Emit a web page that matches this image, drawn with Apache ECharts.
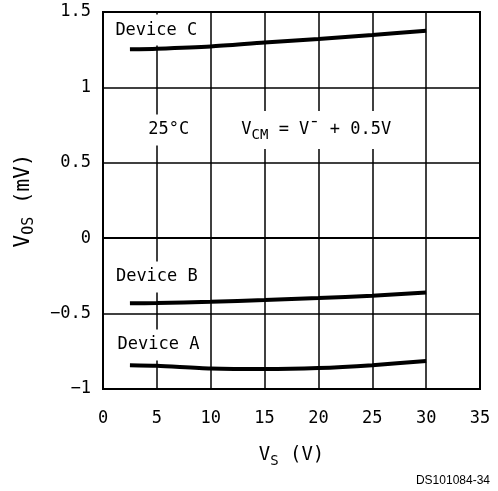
<!DOCTYPE html>
<html>
<head>
<meta charset="utf-8">
<script src="https://cdn.jsdelivr.net/npm/echarts@6/dist/echarts.min.js"></script>
<style>
  html, body { margin: 0; padding: 0; background: #fff; }
  #chart_wrap { width: 498px; height: 491px; }
</style>
</head>
<body>
<div id="chart_wrap"></div>
<script>
var vsValues = [2.5, 5, 10, 15, 20, 25, 30];
var deviceA = [-0.842, -0.846, -0.864, -0.868, -0.861, -0.842, -0.815];
var deviceB = [-0.432, -0.43, -0.421, -0.41, -0.397, -0.381, -0.36];
var deviceC = [1.253, 1.257, 1.272, 1.298, 1.321, 1.347, 1.376];

var noteText = ['{n|Device C}', '{n|25°C}', '{n|V}{s|CM}{n| = V¯ + 0.5V}', '{n|Device B}', '{n|Device A}'];
var noteX = [4.95, 6.1, 19.8, 5.0, 5.15];
var noteY = [1.38, 0.717, 0.717, -0.257, -0.708];

var FONT = '"DejaVu Sans Mono", monospace';

var pairs = function (xs, ys) {
    var res = [];
    for (var i = 0; i < xs.length; i++) {
        res.push([xs[i], ys[i]]);
    }
    return res;
};

var curve = function (name, ys) {
    return {
        name: name,
        type: 'line',
        data: pairs(vsValues, ys),
        smooth: 0.25,
        symbol: 'none',
        lineStyle: { color: '#000', width: 4 },
        z: 3
    };
};

var chart = echarts.init(document.getElementById('chart_wrap'));

var option = {
    backgroundColor: '#fff',
    animation: false,
    grid: {
        left: 103, top: 12, right: 18, bottom: 102,
        show: true, borderColor: '#000', borderWidth: 2
    },
    xAxis: {
        type: 'value', min: 0, max: 35, interval: 5,
        name: '{n|V}{s|S}{n| (V)}',
        nameLocation: 'middle', nameGap: 54,
        nameTextStyle: {
            rich: {
                n: { fontFamily: FONT, fontSize: 19, color: '#000' },
                s: { fontFamily: FONT, fontSize: 14, color: '#000', padding: [11, 0, 0, 0] }
            }
        },
        axisLine: { lineStyle: { color: '#000', width: 2 } },
        axisTick: { show: false },
        axisLabel: { color: '#000', fontFamily: FONT, fontSize: 17, margin: 21 },
        splitLine: { lineStyle: { color: '#000', width: 1.5 } }
    },
    yAxis: {
        type: 'value', min: -1, max: 1.5, interval: 0.5,
        name: '{n|V}{s|OS}{n| (mV)}',
        nameLocation: 'middle', nameGap: 66,
        nameTextStyle: {
            rich: {
                n: { fontFamily: FONT, fontSize: 21, color: '#000' },
                s: { fontFamily: FONT, fontSize: 15, color: '#000', padding: [11, 0, 0, 0] }
            }
        },
        axisLine: { lineStyle: { color: '#000', width: 2 } },
        axisTick: { show: false },
        axisLabel: {
            color: '#000', fontFamily: FONT, fontSize: 17, margin: 12,
            formatter: function (v) { return String(v).replace('-', '−'); }
        },
        splitLine: { lineStyle: { color: '#000', width: 1.5 } }
    },
    graphic: [{
        type: 'text', right: 8, bottom: 4,
        style: { text: 'DS101084-34', font: '12px "Liberation Sans", Arial, sans-serif', fill: '#000' }
    }],
    series: [
        curve('Device A', deviceA),
        curve('Device B', deviceB),
        curve('Device C', deviceC),
        {
            name: 'notes',
            type: 'scatter',
            symbolSize: 0,
            data: pairs(noteX, noteY),
            z: 2,
            itemStyle: { opacity: 1 },
            label: {
                show: true,
                position: 'inside',
                opacity: 1,
                backgroundColor: '#fff',
                padding: [7, 5],
                formatter: function (p) { return noteText[p.dataIndex]; },
                rich: {
                    n: { fontFamily: FONT, fontSize: 17, color: '#000' },
                    s: { fontFamily: FONT, fontSize: 14, color: '#000', padding: [10, 0, 0, 0] }
                }
            }
        }
    ]
};

chart.setOption(option);
</script>
</body>
</html>
